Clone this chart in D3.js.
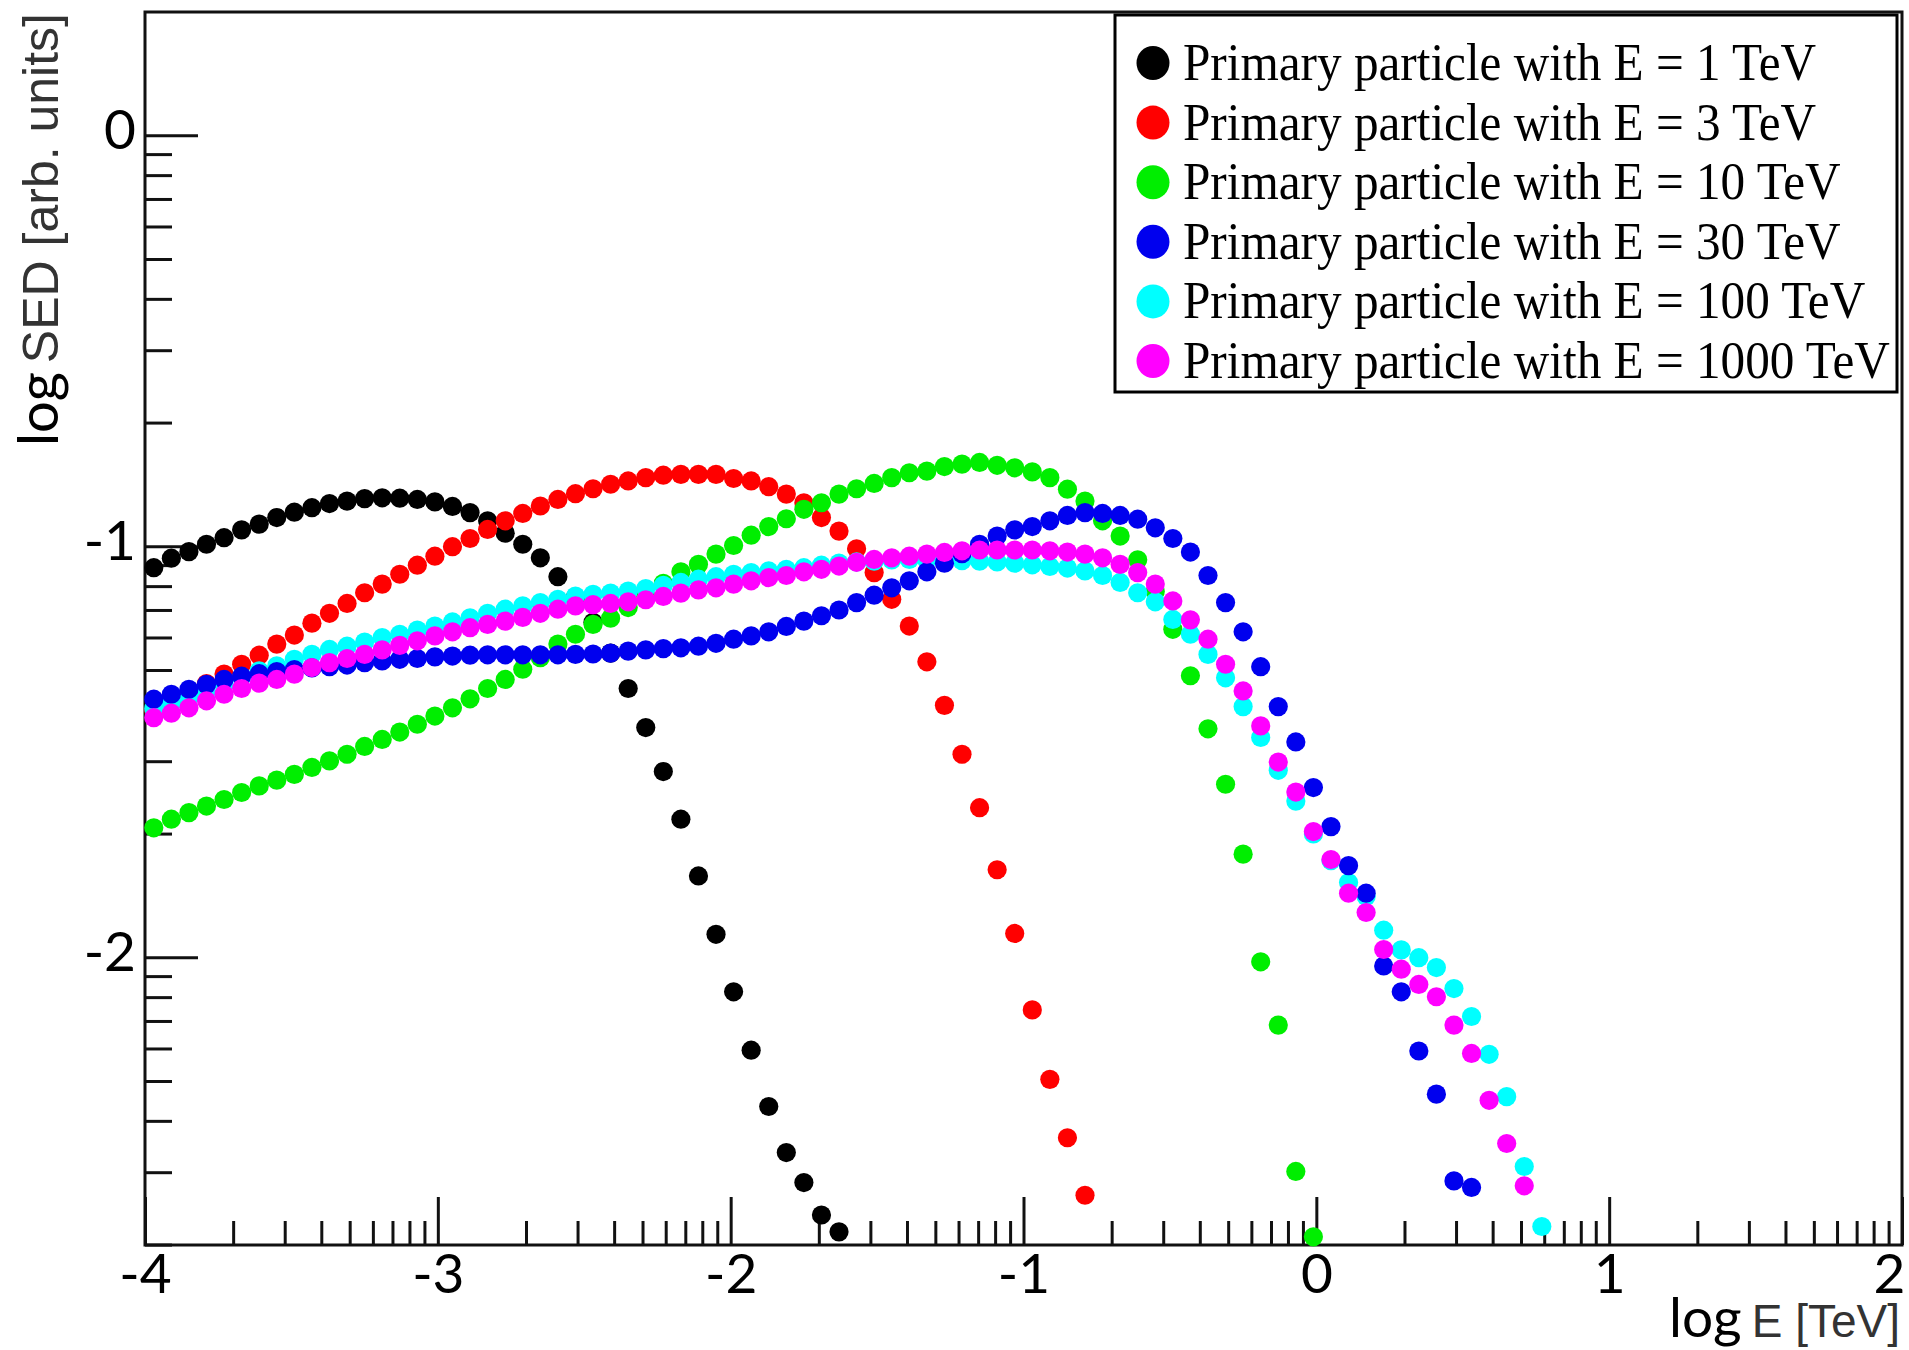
<!DOCTYPE html>
<html>
<head>
<meta charset="utf-8">
<script src="https://cdn.jsdelivr.net/npm/d3@7"></script>
<style>
  body { margin: 0; background: #fff; }
</style>
</head>
<body>
<div id="vis"></div>
<script>
// [log E (TeV), log SED]
var e1 = [[-3.97,-1.052],[-3.91,-1.029],[-3.85,-1.013],[-3.79,-0.995],[-3.73,-0.979],[-3.67,-0.960],[-3.61,-0.946],[-3.55,-0.930],[-3.49,-0.917],[-3.43,-0.906],[-3.37,-0.896],[-3.31,-0.890],[-3.25,-0.884],[-3.19,-0.882],[-3.13,-0.883],[-3.07,-0.886],[-3.01,-0.892],[-2.95,-0.903],[-2.89,-0.918],[-2.83,-0.938],[-2.77,-0.968],[-2.71,-0.995],[-2.65,-1.028],[-2.59,-1.074],[-2.53,-1.124],[-2.47,-1.185],[-2.41,-1.260],[-2.35,-1.346],[-2.29,-1.441],[-2.23,-1.548],[-2.17,-1.664],[-2.11,-1.802],[-2.05,-1.944],[-1.99,-2.084],[-1.93,-2.226],[-1.87,-2.363],[-1.81,-2.475],[-1.75,-2.548],[-1.69,-2.627],[-1.63,-2.668]];

var e3 = [[-3.97,-1.400],[-3.91,-1.380],[-3.85,-1.357],[-3.79,-1.334],[-3.73,-1.311],[-3.67,-1.287],[-3.61,-1.265],[-3.55,-1.238],[-3.49,-1.216],[-3.43,-1.187],[-3.37,-1.163],[-3.31,-1.139],[-3.25,-1.113],[-3.19,-1.092],[-3.13,-1.068],[-3.07,-1.046],[-3.01,-1.024],[-2.95,-1.001],[-2.89,-0.981],[-2.83,-0.959],[-2.77,-0.938],[-2.71,-0.920],[-2.65,-0.902],[-2.59,-0.886],[-2.53,-0.872],[-2.47,-0.860],[-2.41,-0.849],[-2.35,-0.841],[-2.29,-0.833],[-2.23,-0.827],[-2.17,-0.825],[-2.11,-0.825],[-2.05,-0.825],[-1.99,-0.835],[-1.93,-0.841],[-1.87,-0.855],[-1.81,-0.873],[-1.75,-0.894],[-1.69,-0.930],[-1.63,-0.963],[-1.57,-1.006],[-1.51,-1.064],[-1.45,-1.129],[-1.39,-1.194],[-1.33,-1.281],[-1.27,-1.387],[-1.21,-1.506],[-1.15,-1.636],[-1.09,-1.787],[-1.03,-1.942],[-0.97,-2.128],[-0.91,-2.297],[-0.85,-2.439],[-0.79,-2.579]];

var e10 = [[-3.97,-1.685],[-3.91,-1.664],[-3.85,-1.648],[-3.79,-1.632],[-3.73,-1.616],[-3.67,-1.599],[-3.61,-1.583],[-3.55,-1.569],[-3.49,-1.555],[-3.43,-1.538],[-3.37,-1.522],[-3.31,-1.506],[-3.25,-1.487],[-3.19,-1.470],[-3.13,-1.452],[-3.07,-1.433],[-3.01,-1.413],[-2.95,-1.393],[-2.89,-1.371],[-2.83,-1.346],[-2.77,-1.324],[-2.71,-1.299],[-2.65,-1.271],[-2.59,-1.238],[-2.53,-1.214],[-2.47,-1.190],[-2.41,-1.175],[-2.35,-1.149],[-2.29,-1.121],[-2.23,-1.090],[-2.17,-1.062],[-2.11,-1.044],[-2.05,-1.019],[-1.99,-0.998],[-1.93,-0.973],[-1.87,-0.952],[-1.81,-0.933],[-1.75,-0.910],[-1.69,-0.894],[-1.63,-0.873],[-1.57,-0.860],[-1.51,-0.847],[-1.45,-0.833],[-1.39,-0.821],[-1.33,-0.817],[-1.27,-0.806],[-1.21,-0.800],[-1.15,-0.796],[-1.09,-0.803],[-1.03,-0.809],[-0.97,-0.819],[-0.91,-0.833],[-0.85,-0.861],[-0.79,-0.890],[-0.73,-0.938],[-0.67,-0.975],[-0.61,-1.033],[-0.55,-1.110],[-0.49,-1.202],[-0.43,-1.315],[-0.37,-1.444],[-0.31,-1.579],[-0.25,-1.749],[-0.19,-2.011],[-0.13,-2.165],[-0.07,-2.521],[-0.01,-2.680]];

var e30 = [[-3.97,-1.372],[-3.91,-1.360],[-3.85,-1.348],[-3.79,-1.336],[-3.73,-1.324],[-3.67,-1.316],[-3.61,-1.310],[-3.55,-1.305],[-3.49,-1.300],[-3.43,-1.296],[-3.37,-1.293],[-3.31,-1.289],[-3.25,-1.283],[-3.19,-1.279],[-3.13,-1.275],[-3.07,-1.273],[-3.01,-1.269],[-2.95,-1.267],[-2.89,-1.265],[-2.83,-1.264],[-2.77,-1.264],[-2.71,-1.264],[-2.65,-1.264],[-2.59,-1.264],[-2.53,-1.263],[-2.47,-1.262],[-2.41,-1.260],[-2.35,-1.255],[-2.29,-1.252],[-2.23,-1.249],[-2.17,-1.247],[-2.11,-1.243],[-2.05,-1.236],[-1.99,-1.226],[-1.93,-1.218],[-1.87,-1.208],[-1.81,-1.195],[-1.75,-1.182],[-1.69,-1.169],[-1.63,-1.155],[-1.57,-1.137],[-1.51,-1.119],[-1.45,-1.101],[-1.39,-1.084],[-1.33,-1.062],[-1.27,-1.041],[-1.21,-1.018],[-1.15,-0.995],[-1.09,-0.975],[-1.03,-0.960],[-0.97,-0.952],[-0.91,-0.938],[-0.85,-0.925],[-0.79,-0.918],[-0.73,-0.920],[-0.67,-0.925],[-0.61,-0.934],[-0.55,-0.955],[-0.49,-0.981],[-0.43,-1.014],[-0.37,-1.071],[-0.31,-1.137],[-0.25,-1.208],[-0.19,-1.293],[-0.13,-1.390],[-0.07,-1.476],[-0.01,-1.587],[0.05,-1.682],[0.11,-1.777],[0.17,-1.844],[0.23,-2.021],[0.29,-2.084],[0.35,-2.228],[0.41,-2.333],[0.47,-2.544],[0.53,-2.560]];

var e100 = [[-3.97,-1.395],[-3.91,-1.382],[-3.85,-1.368],[-3.79,-1.352],[-3.73,-1.335],[-3.67,-1.318],[-3.61,-1.303],[-3.55,-1.291],[-3.49,-1.275],[-3.43,-1.263],[-3.37,-1.251],[-3.31,-1.243],[-3.25,-1.233],[-3.19,-1.222],[-3.13,-1.214],[-3.07,-1.204],[-3.01,-1.194],[-2.95,-1.184],[-2.89,-1.174],[-2.83,-1.163],[-2.77,-1.153],[-2.71,-1.145],[-2.65,-1.137],[-2.59,-1.129],[-2.53,-1.121],[-2.47,-1.117],[-2.41,-1.114],[-2.35,-1.109],[-2.29,-1.103],[-2.23,-1.095],[-2.17,-1.088],[-2.11,-1.080],[-2.05,-1.074],[-1.99,-1.068],[-1.93,-1.064],[-1.87,-1.060],[-1.81,-1.056],[-1.75,-1.052],[-1.69,-1.046],[-1.63,-1.041],[-1.57,-1.038],[-1.51,-1.036],[-1.45,-1.033],[-1.39,-1.032],[-1.33,-1.034],[-1.27,-1.035],[-1.21,-1.035],[-1.15,-1.036],[-1.09,-1.038],[-1.03,-1.041],[-0.97,-1.045],[-0.91,-1.049],[-0.85,-1.053],[-0.79,-1.060],[-0.73,-1.071],[-0.67,-1.088],[-0.61,-1.113],[-0.55,-1.135],[-0.49,-1.178],[-0.43,-1.214],[-0.37,-1.263],[-0.31,-1.320],[-0.25,-1.390],[-0.19,-1.465],[-0.13,-1.545],[-0.07,-1.620],[-0.01,-1.700],[0.05,-1.765],[0.11,-1.818],[0.17,-1.852],[0.23,-1.934],[0.29,-1.982],[0.35,-2.001],[0.41,-2.025],[0.47,-2.076],[0.53,-2.144],[0.59,-2.236],[0.65,-2.339],[0.71,-2.509],[0.77,-2.655]];

var e1000 = [[-3.97,-1.417],[-3.91,-1.406],[-3.85,-1.393],[-3.79,-1.376],[-3.73,-1.360],[-3.67,-1.346],[-3.61,-1.333],[-3.55,-1.324],[-3.49,-1.311],[-3.43,-1.295],[-3.37,-1.283],[-3.31,-1.273],[-3.25,-1.263],[-3.19,-1.252],[-3.13,-1.241],[-3.07,-1.230],[-3.01,-1.218],[-2.95,-1.208],[-2.89,-1.198],[-2.83,-1.190],[-2.77,-1.182],[-2.71,-1.173],[-2.65,-1.163],[-2.59,-1.153],[-2.53,-1.145],[-2.47,-1.142],[-2.41,-1.139],[-2.35,-1.135],[-2.29,-1.130],[-2.23,-1.122],[-2.17,-1.114],[-2.11,-1.106],[-2.05,-1.101],[-1.99,-1.092],[-1.93,-1.084],[-1.87,-1.076],[-1.81,-1.071],[-1.75,-1.062],[-1.69,-1.056],[-1.63,-1.048],[-1.57,-1.039],[-1.51,-1.032],[-1.45,-1.028],[-1.39,-1.024],[-1.33,-1.019],[-1.27,-1.015],[-1.21,-1.011],[-1.15,-1.009],[-1.09,-1.009],[-1.03,-1.009],[-0.97,-1.009],[-0.91,-1.011],[-0.85,-1.014],[-0.79,-1.019],[-0.73,-1.028],[-0.67,-1.044],[-0.61,-1.064],[-0.55,-1.092],[-0.49,-1.133],[-0.43,-1.179],[-0.37,-1.226],[-0.31,-1.287],[-0.25,-1.352],[-0.19,-1.437],[-0.13,-1.525],[-0.07,-1.598],[-0.01,-1.694],[0.05,-1.762],[0.11,-1.844],[0.17,-1.891],[0.23,-1.981],[0.29,-2.029],[0.35,-2.066],[0.41,-2.096],[0.47,-2.165],[0.53,-2.234],[0.59,-2.348],[0.65,-2.453],[0.71,-2.556]];

var seriesData = [e1, e3, e10, e30, e100, e1000];
var seriesLabels = [
  "Primary particle with E = 1 TeV",
  "Primary particle with E = 3 TeV",
  "Primary particle with E = 10 TeV",
  "Primary particle with E = 30 TeV",
  "Primary particle with E = 100 TeV",
  "Primary particle with E = 1000 TeV"
];
var seriesColors = ["#000000", "#ff0000", "#00ee00", "#0000ee", "#00ffff", "#ff00ff"];
var drawOrder = [0, 1, 2, 4, 3, 5];

var xMajor = [-4, -3, -2, -1, 0, 1, 2];
var yMajor = [0, -1, -2];
var xDomain = [-4, 2];
var yDomain = [-2.7, 0.3];

var W = 1909, H = 1350;
var frame = { left: 145, right: 1902, top: 12, bottom: 1245 };

var svg = d3.select("#vis").append("svg")
  .attr("width", W)
  .attr("height", H);

svg.append("rect")
  .attr("width", W)
  .attr("height", H)
  .attr("fill", "#fff");

var x = d3.scaleLinear().domain(xDomain).range([frame.left, frame.right]);
var y = d3.scaleLinear().domain(yDomain).range([frame.bottom, frame.top]);
// same mapping in linear units, used for the log-style minor ticks
var xLog = d3.scaleLog().domain(xDomain.map(function(d) { return Math.pow(10, d); })).range(x.range());
var yLog = d3.scaleLog().domain(yDomain.map(function(d) { return Math.pow(10, d); })).range(y.range());

function isDecade(v) {
  var l = Math.log10(v);
  return Math.abs(l - Math.round(l)) < 1e-6;
}
var xMinor = xLog.ticks().filter(function(v) { return !isDecade(v); });
var yMinor = yLog.ticks().filter(function(v) { return !isDecade(v); });
var pow10 = function(d) { return Math.pow(10, d); };

// frame
svg.append("rect")
  .attr("x", frame.left)
  .attr("y", frame.top)
  .attr("width", frame.right - frame.left)
  .attr("height", frame.bottom - frame.top)
  .attr("fill", "none")
  .attr("stroke", "#111")
  .attr("stroke-width", 3);

function styleAxis(g) {
  g.select(".domain").remove();
  g.selectAll(".tick line").attr("stroke", "#111").attr("stroke-width", 3);
  g.selectAll(".tick text")
    .attr("fill", "#000")
    .style("font-family", "Lato, 'Open Sans', sans-serif")
    .style("font-size", "55px");
}

svg.append("g")
  .attr("transform", "translate(0," + frame.bottom + ")")
  .call(d3.axisBottom(xLog).tickValues(xMinor).tickSize(-24).tickFormat(""))
  .call(styleAxis);

var xAxisG = svg.append("g")
  .attr("transform", "translate(0," + frame.bottom + ")")
  .call(d3.axisBottom(xLog).tickValues(xMajor.map(pow10)).tickSize(-48).tickPadding(9)
    .tickFormat(function(d) { return String(Math.round(Math.log10(d))); }))
  .call(styleAxis);
// keep the last label inside the picture
xAxisG.selectAll(".tick text")
  .filter(function(d) { return Math.round(Math.log10(d)) === xDomain[1]; })
  .attr("text-anchor", "end")
  .attr("dx", 3);

svg.append("g")
  .attr("transform", "translate(" + frame.left + ",0)")
  .call(d3.axisLeft(yLog).tickValues(yMinor).tickSize(-27).tickFormat(""))
  .call(styleAxis);

svg.append("g")
  .attr("transform", "translate(" + frame.left + ",0)")
  .call(d3.axisLeft(yLog).tickValues(yMajor.map(pow10)).tickSize(-53).tickPadding(9)
    .tickFormat(function(d) { return String(Math.round(Math.log10(d))); }))
  .call(styleAxis)
  .selectAll(".tick text").attr("dy", "0.24em");

// data points
drawOrder.forEach(function(i) {
  svg.append("g")
    .selectAll("circle")
    .data(seriesData[i]).enter()
    .append("circle")
    .attr("cx", function(d) { return x(d[0]); })
    .attr("cy", function(d) { return y(d[1]); })
    .attr("r", 9.6)
    .attr("fill", seriesColors[i]);
});

// axis titles
var yTitle = svg.append("text")
  .attr("transform", "translate(58,13) rotate(-90)")
  .attr("text-anchor", "end");
yTitle.append("tspan")
  .style("font-family", "Lato, 'Open Sans', sans-serif")
  .style("font-size", "56px")
  .attr("fill", "#000")
  .text("log");
yTitle.append("tspan")
  .attr("dx", 9)
  .style("font-family", "'Liberation Sans', Arial, sans-serif")
  .style("font-size", "50px")
  .attr("fill", "#333")
  .text("SED [arb. units]");

var xTitle = svg.append("text")
  .attr("x", 1900)
  .attr("y", 1337)
  .attr("text-anchor", "end");
xTitle.append("tspan")
  .style("font-family", "Lato, 'Open Sans', sans-serif")
  .style("font-size", "55px")
  .attr("fill", "#000")
  .text("log");
xTitle.append("tspan")
  .attr("dx", 10)
  .style("font-family", "'Liberation Sans', Arial, sans-serif")
  .style("font-size", "46px")
  .attr("fill", "#333")
  .text("E [TeV]");

// legend
var legendBox = { x: 1115, y: 15, w: 782, h: 377 };
var legend = svg.append("g");
legend.append("rect")
  .attr("x", legendBox.x)
  .attr("y", legendBox.y)
  .attr("width", legendBox.w)
  .attr("height", legendBox.h)
  .attr("fill", "#fff")
  .attr("stroke", "#000")
  .attr("stroke-width", 3);

var rowY = d3.scalePoint().domain(d3.range(seriesLabels.length)).range([63, 361]);

legend.selectAll(".lmark")
  .data(seriesLabels).enter()
  .append("ellipse")
  .attr("class", "lmark")
  .attr("cx", 1153)
  .attr("cy", function(d, i) { return rowY(i); })
  .attr("rx", 16.5)
  .attr("ry", 17)
  .attr("fill", function(d, i) { return seriesColors[i]; });

var textG = legend.append("g").attr("transform", "translate(1183,0)");
var ltexts = textG.selectAll(".ltext")
  .data(seriesLabels).enter()
  .append("text")
  .attr("class", "ltext")
  .attr("x", 0)
  .attr("y", function(d, i) { return rowY(i) + 17; })
  .style("font-family", "'Liberation Serif', 'Times New Roman', serif")
  .style("font-size", "52px")
  .attr("fill", "#000")
  .text(function(d) { return d; });

var widest = d3.max(ltexts.nodes(), function(n) { return n.getComputedTextLength(); });
textG.attr("transform", "translate(1183,0) scale(" + (707 / widest) + ",1)");
</script>
</body>
</html>
